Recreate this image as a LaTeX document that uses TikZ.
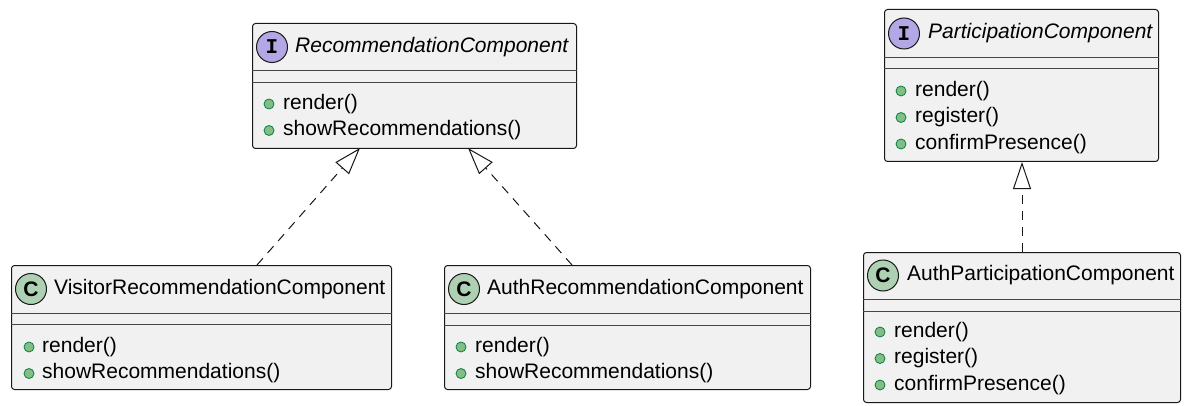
\documentclass[tikz,border=0pt]{standalone}
\usepackage{fontspec}
\setmainfont{Liberation Sans}
\newfontfamily\badgefont{Liberation Mono}
\usetikzlibrary{arrows.meta}
\definecolor{boxfill}{HTML}{F1F1F1}
\definecolor{boxline}{HTML}{181818}
\definecolor{ifacefill}{HTML}{B4A7E5}
\definecolor{clsfill}{HTML}{ADD1B2}
\definecolor{dotfill}{HTML}{84BE84}
\definecolor{dotline}{HTML}{038048}
\tikzset{
  umlbox/.style={draw=boxline,fill=boxfill,line width=1pt,rounded corners=3pt,anchor=north west,inner sep=0pt},
  sepline/.style={draw=boxline!80,line width=1pt},
  ibadge/.style={circle,draw=boxline,fill=ifacefill,line width=1pt,minimum size=31pt,inner sep=0pt,font=\badgefont\bfseries\fontsize{21}{21}\selectfont},
  cbadge/.style={circle,draw=boxline,fill=clsfill,line width=1pt,minimum size=31pt,inner sep=0pt,font=\bfseries\fontsize{21}{21}\selectfont},
  title/.style={anchor=west,inner sep=0pt,text height=15pt,text depth=4.5pt,font=\fontsize{21}{25}\selectfont},
  mdot/.style={circle,draw=dotline,fill=dotfill,line width=0.8pt,minimum size=10pt,inner sep=0pt},
  realize/.style={draw=boxline,line width=1pt,dash pattern=on 9pt off 7pt,-{Triangle[open,length=27pt,width=18pt]}}
}
\begin{document}
\begin{tikzpicture}[x=1pt,y=-1pt]
        \useasboundingbox[fill=white] (0,0) rectangle (1190,406);

        % interface RecommendationComponent
        \node[umlbox,minimum width=324pt,minimum height=125pt] (rc) at (252,23) {};
        \node[ibadge] (rc-b) at (272,47) {I};
        \node[title] (rc-t) at (295,47) {\itshape RecommendationComponent};
        \draw[sepline] (rc.west |- 0,71) -- (rc.east |- 0,71);
        \draw[sepline] (rc.west |- 0,83) -- (rc.east |- 0,83);
        \foreach \m [count=\k] in {render(),showRecommendations()} {
            \node[mdot] (rc-d\k) at (269,77.5+26.5*\k) {};
            \node[title] (rc-m\k) at (283,77.5+26.5*\k) {\m};
        }

        % class VisitorRecommendationComponent
        \node[umlbox,minimum width=380pt,minimum height=124pt] (vc) at (11,265) {};
        \node[cbadge] (vc-b) at (31,289) {C};
        \node[title] (vc-t) at (54,289) {VisitorRecommendationComponent};
        \draw[sepline] (vc.west |- 0,313) -- (vc.east |- 0,313);
        \draw[sepline] (vc.west |- 0,324) -- (vc.east |- 0,324);
        \foreach \m [count=\k] in {render(),showRecommendations()} {
            \node[mdot] (vc-d\k) at (29,320.5+26.5*\k) {};
            \node[title] (vc-m\k) at (42,320.5+26.5*\k) {\m};
        }

        % class AuthRecommendationComponent
        \node[umlbox,minimum width=366pt,minimum height=124pt] (ac) at (444,265) {};
        \node[cbadge] (ac-b) at (464,289) {C};
        \node[title] (ac-t) at (487,289) {AuthRecommendationComponent};
        \draw[sepline] (ac.west |- 0,313) -- (ac.east |- 0,313);
        \draw[sepline] (ac.west |- 0,325) -- (ac.east |- 0,325);
        \foreach \m [count=\k] in {render(),showRecommendations()} {
            \node[mdot] (ac-d\k) at (461,320.5+26.5*\k) {};
            \node[title] (ac-m\k) at (475,320.5+26.5*\k) {\m};
        }

        % interface ParticipationComponent
        \node[umlbox,minimum width=274pt,minimum height=152pt] (pc) at (884,9) {};
        \node[ibadge] (pc-b) at (904,33.5) {I};
        \node[title] (pc-t) at (928,33.5) {\itshape ParticipationComponent};
        \draw[sepline] (pc.west |- 0,58) -- (pc.east |- 0,58);
        \draw[sepline] (pc.west |- 0,69) -- (pc.east |- 0,69);
        \foreach \m [count=\k] in {render(),register(),confirmPresence()} {
            \node[mdot] (pc-d\k) at (901,64.5+26.5*\k) {};
            \node[title] (pc-m\k) at (915,64.5+26.5*\k) {\m};
        }

        % class AuthParticipationComponent
        \node[umlbox,minimum width=317pt,minimum height=150pt] (ap) at (863,252) {};
        \node[cbadge] (ap-b) at (883,275.5) {C};
        \node[title] (ap-t) at (907,275.5) {AuthParticipationComponent};
        \draw[sepline] (ap.west |- 0,299) -- (ap.east |- 0,299);
        \draw[sepline] (ap.west |- 0,311) -- (ap.east |- 0,311);
        \foreach \m [count=\k] in {render(),register(),confirmPresence()} {
            \node[mdot] (ap-d\k) at (880,305.5+26.5*\k) {};
            \node[title] (ap-m\k) at (894,305.5+26.5*\k) {\m};
        }

        % realizations
        \coordinate (vc-in) at (257,265);
        \coordinate (rc-inl) at (360,148);
        \coordinate (ac-in) at (572,265);
        \coordinate (rc-inr) at (468,148);
        \draw[realize] (vc-in) -- (rc-inl);
        \draw[realize] (ac-in) -- (rc-inr);
        \draw[realize] (ap.north) -- (ap.north |- pc.south);
    \end{tikzpicture}
\end{document}
